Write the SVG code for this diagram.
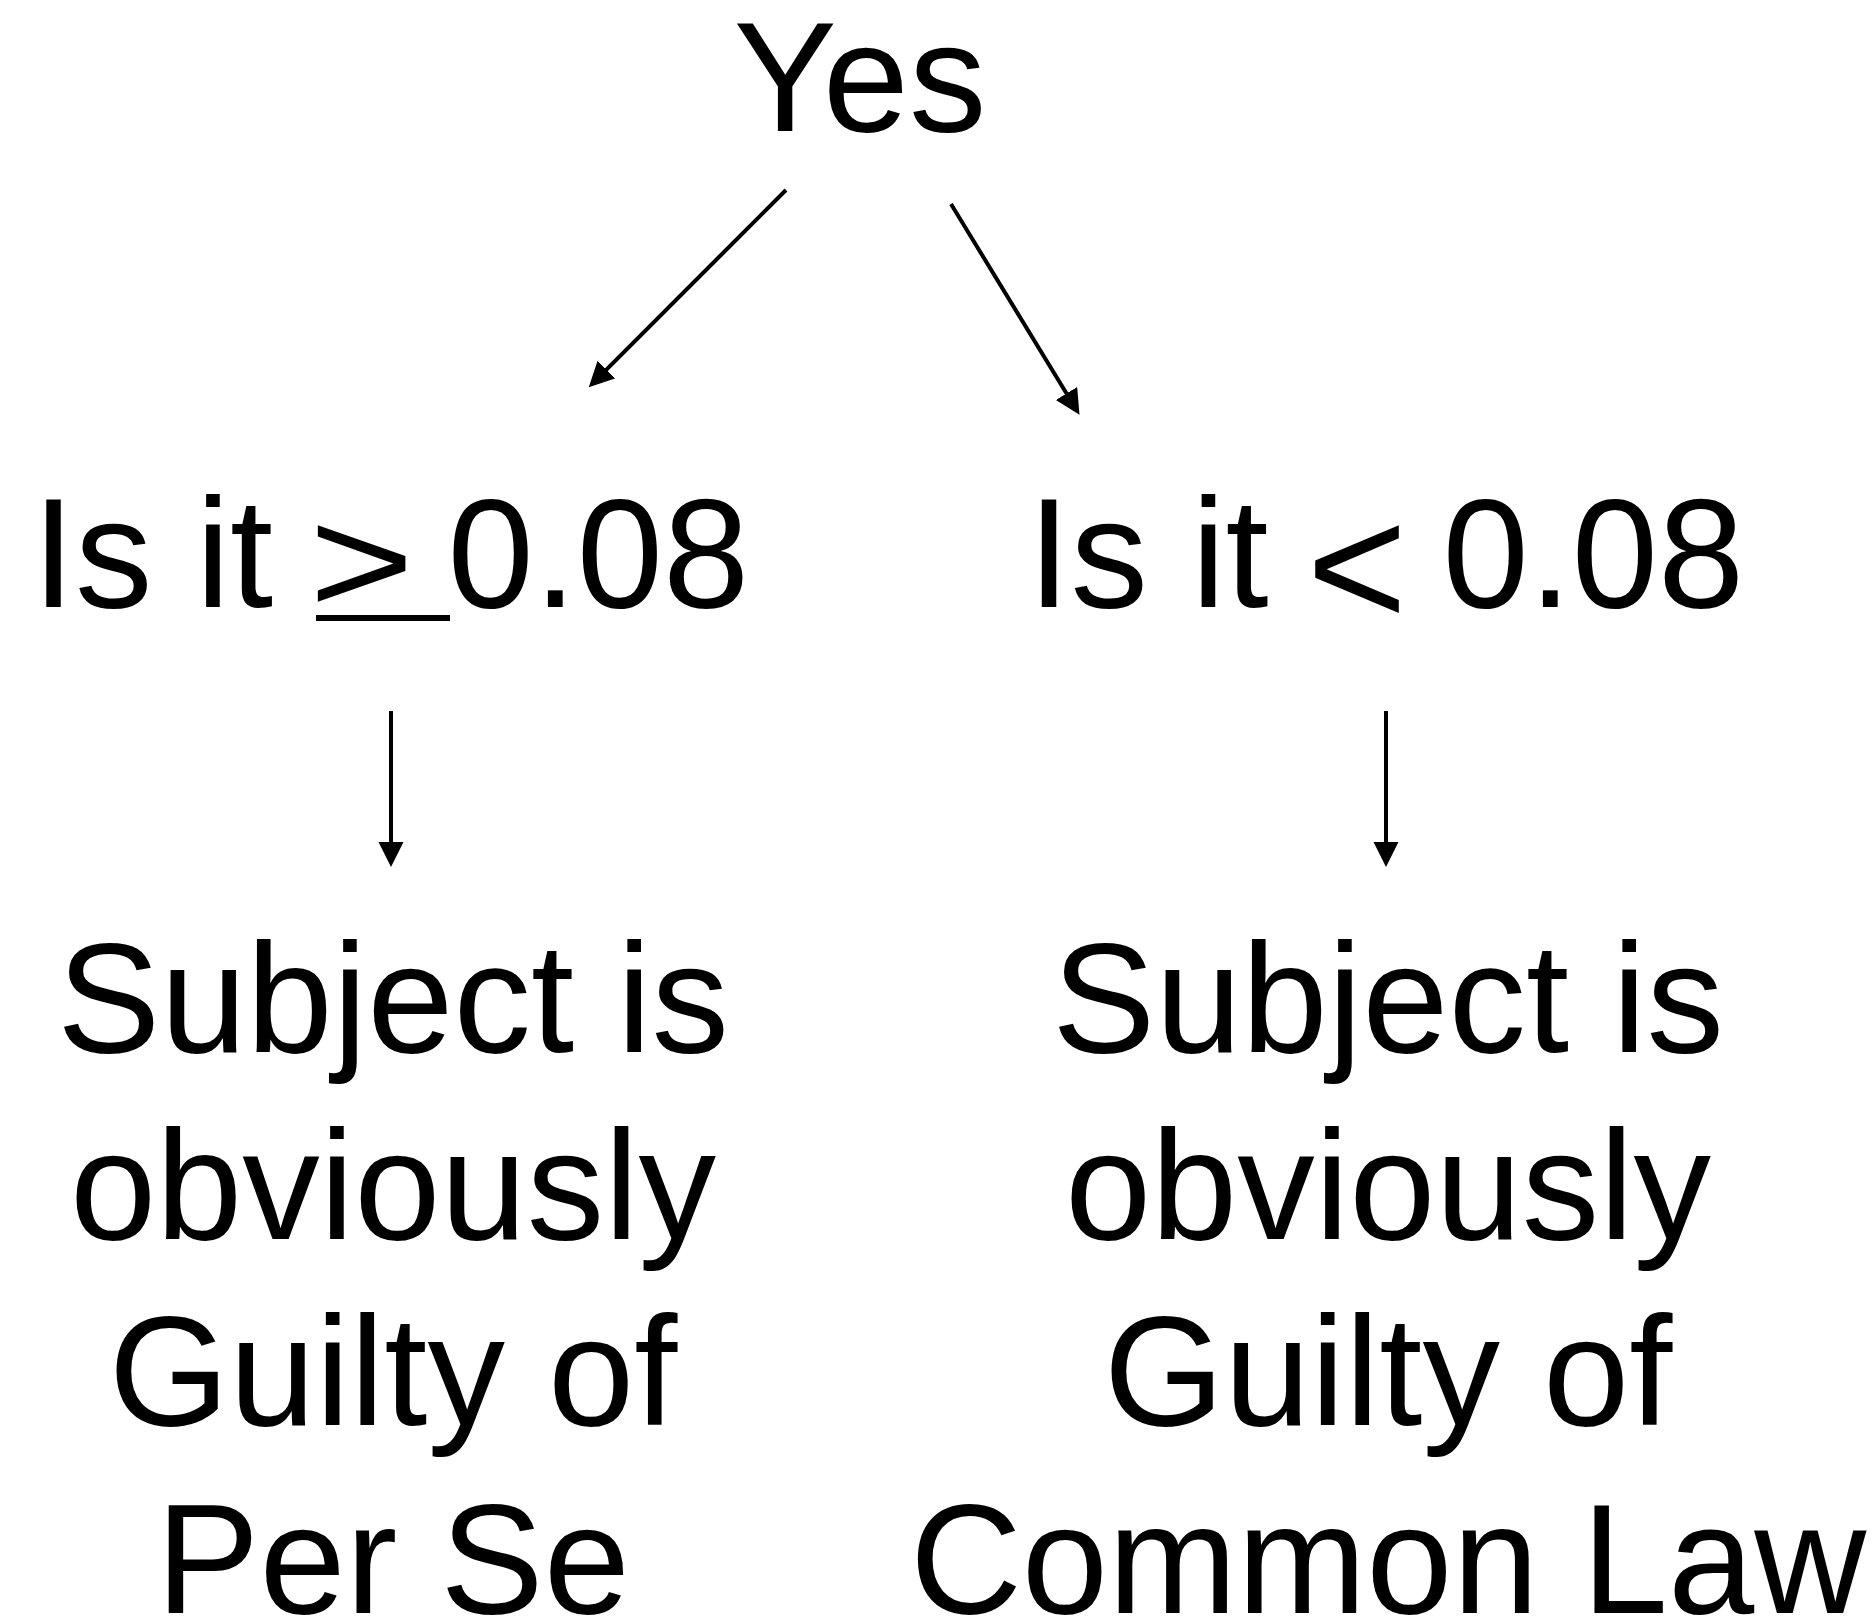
<svg xmlns="http://www.w3.org/2000/svg" width="1875" height="1616" viewBox="0 0 1875 1616">
<style>
text{font-family:"Liberation Sans",Arial,Helvetica,sans-serif;font-size:155px;fill:#000}
.c{text-anchor:middle}
.lt{font-size:172px}
.gt{font-size:150px}
.edge{stroke:#000;stroke-width:4;fill:none;marker-end:url(#ah)}
</style>
<defs>
<marker id="ah" markerUnits="userSpaceOnUse" markerWidth="26" markerHeight="26" refX="1" refY="12.5" orient="auto">
<path d="M0,0 L25,12.5 L0,25 z" fill="#000"/>
</marker>
</defs>
<rect width="1875" height="1616" fill="#fff"/>
<g id="edges">
<line class="edge" x1="786" y1="190" x2="605.7" y2="370.3"/>
<line class="edge" x1="951" y1="204" x2="1067" y2="394.3"/>
<line class="edge" x1="391" y1="711" x2="391" y2="843"/>
<line class="edge" x1="1386" y1="711" x2="1386" y2="843"/>
</g>
<g id="node-yes"><text class="c" x="860" y="131">Yes</text></g>
<g id="node-ge">
<text x="32" y="607">Is it</text>
<text class="gt c" transform="translate(361.5,613) scale(1.2,1)">&gt;</text>
<rect x="316" y="615" width="134" height="6" fill="#000"/>
<text x="447.6" y="607">0.08</text>
</g>
<g id="node-lt">
<text x="1027.5" y="607">Is it</text>
<text class="lt c" x="1357" y="626">&lt;</text>
<text x="1442.6" y="607">0.08</text>
</g>
<g id="node-perse">
<text class="c" x="393" y="1052">Subject is</text>
<text class="c" x="393" y="1239">obviously</text>
<text class="c" x="393" y="1425">Guilty of</text>
<text class="c" x="393" y="1613">Per Se</text>
</g>
<g id="node-common">
<text class="c" x="1388" y="1052">Subject is</text>
<text class="c" x="1388" y="1239">obviously</text>
<text class="c" x="1388" y="1425">Guilty of</text>
<text class="c" x="1388" y="1613">Common Law</text>
</g>
</svg>
